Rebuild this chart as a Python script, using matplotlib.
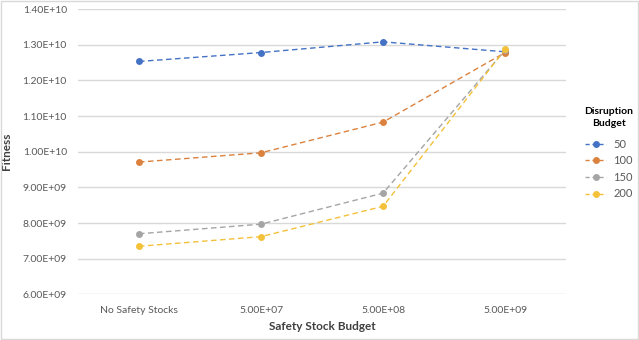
import numpy as np
import matplotlib.pyplot as plt
from matplotlib.lines import Line2D
from matplotlib.patches import Rectangle

plt.rcParams['font.family'] = ['Lato', 'DejaVu Sans']

# Data
categories = ["No Safety Stocks", "5.00E+07", "5.00E+08", "5.00E+09"]
budgets = ["50", "100", "150", "200"]
fit_50 = [1.253e10, 1.278e10, 1.308e10, 1.280e10]
fit_100 = [9.71e9, 9.97e9, 1.083e10, 1.278e10]
fit_150 = [7.70e9, 7.97e9, 8.84e9, 1.285e10]
fit_200 = [7.35e9, 7.62e9, 8.47e9, 1.287e10]
series = [fit_50, fit_100, fit_150, fit_200]
colours = ["#4472C4", "#DA823E", "#A5A5A5", "#F4C13A"]

fig = plt.figure(figsize=(6.39, 3.40), dpi=100)
ax = fig.add_axes([0.122, 0.134, 0.764, 0.8395])

x = np.arange(len(categories))
for vals, col, lab in zip(series, colours, budgets):
    ax.plot(x, vals, color=col, lw=1, ls=(0, (4, 2.5)), marker='o', ms=5,
            markeredgewidth=0, label=lab)

ax.set_xlim(-0.5, 3.5)
ax.set_ylim(6e9, 1.4e10)
yt = np.arange(6e9, 1.41e10, 1e9)
ax.set_yticks(yt)
ax.set_yticklabels([f"{v:.2E}" for v in yt])
ax.set_xticks(x)
ax.set_xticklabels(categories)
ax.tick_params(axis='both', length=0, labelsize=7.5, colors='#595959', pad=8)
ax.grid(axis='y', color='#D9D9D9', lw=1)
ax.set_axisbelow(True)
for s in ax.spines.values():
    s.set_visible(False)

ax.set_ylabel("Fitness", fontsize=8.5, fontweight='bold', color='#404040')
ax.yaxis.set_label_coords(-0.136, 0.5)
ax.set_xlabel("Safety Stock Budget", fontsize=8.5, fontweight='bold', color='#404040')
ax.xaxis.set_label_coords(0.5, -0.092)

handles = [Line2D([0], [0], color=c, lw=1, ls=(0, (3, 2)), marker='o', ms=5,
                  markeredgewidth=0) for c in colours]
leg = fig.legend(handles, budgets, loc='upper center', bbox_to_anchor=(0.953, 0.715),
                 frameon=False, fontsize=8, title="Disruption\nBudget",
                 title_fontproperties={'weight': 'bold', 'size': 7.5},
                 handlelength=1.9, handletextpad=0.6, labelspacing=0.5)
leg.get_title().set_multialignment('center')
leg.get_title().set_linespacing(1.4)
leg._legend_box.align = 'center'
leg._legend_box.sep = 8
for t in leg.get_texts():
    t.set_color('#595959')

fig.patches.append(Rectangle((0.001, 0.003), 0.997, 0.995, transform=fig.transFigure,
                             fill=False, edgecolor='#D9D9D9', lw=1))

plt.savefig("out.png", dpi=100)
